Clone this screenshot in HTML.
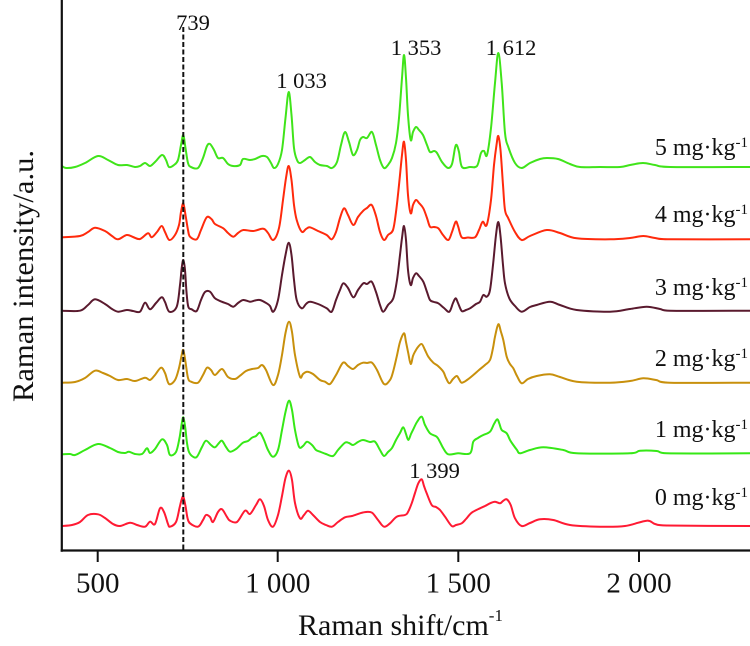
<!DOCTYPE html>
<html>
<head>
<meta charset="utf-8">
<style>
html,body{margin:0;padding:0;background:#fff;}
svg{display:block;}
text{font-family:"Liberation Serif","Times New Roman",serif;fill:#111;}
.s{fill:none;stroke-width:2;stroke-linejoin:round;stroke-linecap:round;}
</style>
</head>
<body>
<svg id="c" width="750" height="646" viewBox="0 0 750 646" xmlns="http://www.w3.org/2000/svg">
<rect x="0" y="0" width="750" height="646" fill="#fff"/>

<!-- spectra -->
<polyline class="s" stroke="#40e41a" points="62,166 66,168 75,167 85,163 98,156 108,160 118,165 127,165 135,167 140,166 145,163 150,166 155,162 162,155 166,160 169,167 174,165 178,160 181,145 183.3,135 185.5,148 188,163 191,167 198,168 203,158 207,146 210,144 214,150 218,158 223,158 228,164 233,166 240,165 243,159 250,160 255,159 262,156 267,157 271,163 274,168 278,164 282,150 285.5,118 288.7,92 291.5,115 294,148 297,160 300,163 305,160 310,157 315,162 320,165 327,166 332,168 337,162 341,145 345,132 349,142 353,155 357,150 360,140 363,137 367,138 372,132 376,145 380,160 384,168 388,165 392,158 396,143 399,118 402,78 404,55 406,78 408,115 410.7,140 413,132 416,127 419,130 423,135 427,145 430,152 434,151 437,153 442,162 448,168 452,164 455,148 456.7,145 459,152 462,167 470,167 477,166 481,153 484,151 487,155 491,128 495,83 498.3,53 501.7,83 505,133 508.3,147 515,163 521.7,168 530,163 540,159 547,158 558,159 570,164 580,167 600,167 620,167 630,165 643,163 655,165 670,167 750,167"/>

<polyline class="s" stroke="#ff2a0c" points="62,237.3 80,236 88,232 95,227.7 105,231 112,236 118,239.3 126.7,235 133,237 140,239 148,233.3 151.7,237.3 157,232 161.7,226 165,232 169.3,240 175,235 179,225 181,212 183.3,203.3 185.5,215 188,230 190,236.7 196.7,239.3 201,230 206.7,217.3 211.7,219.3 215,224 223.3,228.3 228,233 233.3,236.7 238,233 243.3,230 253.3,231 263.3,228.7 268,233 273.3,240 279,228 283,200 286,178 288.7,166 291.5,180 294,205 296.7,220 301.7,231.7 306,229 310,227.3 318,231 326.7,235 331.7,239.3 336,232 340,218 344,208.3 348,215 353.3,225 358,217 363.3,210.7 367,208 371.7,205 376,216 380,232 384,240 388,235 393,230 396,212 399,185 402,155 404,141.7 406,160 408,195 410.7,213.3 413,205 416,200 419,203 423.3,208.3 427,218 430,226.7 434,227 438.3,228.3 443,235 448.3,240 452,232 455.7,221.7 458,226 461.7,237.3 468,237.5 475,237.3 479,230 482.7,221.7 486.7,225 491,200 494,165 496.5,145 498.3,136 500.5,150 503,185 505,210 508.3,218.3 515,232 521.7,240 530,236 546.7,230 560,233 576.7,238.3 610,239.3 630,238 643.3,236 655,238 670,239.3 750,239.3"/>

<polyline class="s" stroke="#5a1a2e" points="62,310.7 80,310.7 88,305 95,299.3 105,304 112,309 118.3,311.7 126.7,310 133,311 140,311.7 145,302.7 150,309.3 156,303 161.7,297.3 165,302 169.3,311.7 176.7,306.7 180,285 181.7,268 183.3,260 185,270 186.5,292 188.3,306.7 191.7,309.3 196.7,311 201,300 205,292 210,291.7 215,298.3 221.7,301.7 228,304 233.3,306.7 238,303 243.3,300 250,301.7 255,300.5 260,300 266.7,303.3 270,306 273.3,311.7 278,300 282,275 285.5,255 288.7,242.7 291.5,255 294,280 296.7,300 301.7,308.3 306,304 310,301.7 318,304 326.7,308.3 331.7,311.7 336,300 340,290 343.3,283.3 348,288 353.3,297.3 358,290 363.3,283.3 367,284 371.7,281.7 376,292 380,305 383.3,311.7 388,305 393.3,298.3 397,280 400,255 402,238 404,226 406,240 408,270 410.7,285 413,278 416,273.3 419,276 423.3,281.7 427,292 430,300 434,302 438.3,303.3 444,308 449.3,311.7 453,303 455.7,298.3 458,303 461.7,311 466,310 470,308.3 476,304 480,301.7 483.3,295 486.7,296.7 490,290 493,265 496,235 498.3,222 500.5,236 503,265 505,283.3 509.3,298.3 515,306 521.7,311.7 530,307 536.7,305 550,301.7 560,305 576.7,310 610,311.7 630,309 646.7,306.7 660,309 670,310.7 750,310.7"/>

<polyline class="s" stroke="#c8900c" points="62,382.7 75,382 85,378 95,370.7 103,373 110,376 118,380 127,379 135,381 145,377.7 150,380 155,375 161,367.7 165,373 169,384 175,380 179,368 181.5,356 183.3,350 185.5,362 188,378 191,381.7 198,382.7 203,375 207,367.7 211,370 215,375 222,369 228,377 235,379 240,375.7 246,371 252,369 258,368 262,365 266,370 273,385 278,375 282,355 285.5,333 289,321.7 292,332 295,355 300,376.7 303,374 307,371.7 313,374 320,380 325,381.7 330,384 336,375 343,362.7 348,366 353,369 358,365 363,362.7 367,363 372,362.7 377,370 384,384 390,380 393,372 396.7,356.7 400,342 404,333.3 406,342 408.3,353.3 410.7,364 413,356 415,351.7 418,347 421.7,344 425,350 428.3,356.7 433.3,362.7 438,366 443.3,371.7 446,378 449.3,383.3 453,379 456.7,376 459,379 461.7,382.7 467,380 473.3,375 479,370 485,365 490,360 493,348 495,336.7 498.3,324.3 501,332 503.3,340 506.7,356.7 510,364 513.3,368.3 517,376 521.7,383.3 528,379 536.7,376 550,374.3 560,377 576.7,381.7 610,382.7 630,381 643.3,378.3 656,380 670,382.7 750,382.7"/>

<polyline class="s" stroke="#36e816" points="62,454.3 70,454 75,455 85,450 98,444 110,448 118,452 125,453 129,451.7 135,454 142,454 147,448.3 150,453 155,449 162,439.3 167,445 170,455 176,452 179.5,438 181.5,425 183.3,417.3 185.3,428 187,443 189,452 193,456.7 197,456.7 202,447 206,440.7 211,445 215,447.3 219,443 222,440.7 226,447 230,451.7 236,449 243,442.7 248,441 252,437.7 256,436 260,432.7 264,440 268,450 273,456.7 278,450 282,430 285.5,412 289,400.7 292,410 295,430 299,446.7 303,446 307,441.7 312,445 316,450 320,451.7 326,454 333,456 338,450 345,442.7 349,443 353,445 358,442 363,440 370,442 375,441.7 380,450 384,456 388,452 392,448 396,440 400,433 403.3,427.3 406,434 408.3,440 411,434 413.3,429.3 417,422 421.7,416.7 425,425 430,433.3 436.7,436.7 440,442 443.3,448.3 448.3,454.3 458,453.3 470,453.3 473.3,441.7 478,438 483.3,435 490,431.7 494,424 497.3,419.3 499.5,424 501.7,430 506.7,433.3 510,440 513.3,445 517,450 520,453.3 530,450 543.3,447.3 563.3,450 576.7,453.3 630,453.3 640,450.7 656.7,451 666.7,453.3 750,453.3"/>

<polyline class="s" stroke="#ff1a33" points="62,526 72,525 80,522 88,515 98,514.3 105,518 113,524 120,526 130,522.7 137,525 145,526.7 150,521.7 155,524 160,508.3 164,512 168,524 170,526.7 176,522 179.5,508 181.5,500 183.3,496.7 185.5,506 187.5,518 190,523.3 198,526.7 203,520 206,515 210,517 213,522 218,512 222,509.3 227,517 230,520.7 237,522 245,510.7 250,514 256,505 260,499.3 264,506 268,520 273,526.7 278,515 282,496 285.5,478 289,470.7 292,480 295,503 300,518.3 304,515 308,510.7 313,515 320,522 326,525 332,526.7 338,522 345,517.3 352,516 360,513.3 366,512 372,512.7 378,520 384,526.7 390,523.3 396.7,516.7 405,515 408,512 411.7,503.3 415,493 418.3,483.3 421.7,479.3 424,486 426.7,493.3 431.7,505 436,507 440,510 445,516.7 451.7,526 456,525 461.7,523.3 466,519 471.7,512.7 480,508.3 485,506 490,503.3 495,501.7 500,503.3 503,501 506.7,499.3 510.7,505 515,518.3 521.7,526 530,523 540,519.3 553.3,520 570,525 600,526.7 625,526 646.7,520.7 655,524 666.7,525.5 750,526"/>

<!-- dashed reference line -->
<line x1="183.3" y1="27" x2="183.3" y2="550" stroke="#111" stroke-width="2" stroke-dasharray="5,2.5"/>

<!-- axes -->
<line x1="61.8" y1="0" x2="61.8" y2="551.7" stroke="#111" stroke-width="2.2"/>
<line x1="60.7" y1="550.5" x2="750" y2="550.5" stroke="#111" stroke-width="2.2"/>
<line x1="97.7" y1="550" x2="97.7" y2="562" stroke="#111" stroke-width="2"/>
<line x1="277.7" y1="550" x2="277.7" y2="562" stroke="#111" stroke-width="2"/>
<line x1="458.3" y1="550" x2="458.3" y2="562" stroke="#111" stroke-width="2"/>
<line x1="639" y1="550" x2="639" y2="562" stroke="#111" stroke-width="2"/>

<!-- tick labels -->
<g font-size="29" text-anchor="middle">
<text x="97.7" y="592.7">500</text>
<text x="277.7" y="592.7">1 000</text>
<text x="458.3" y="592.7">1 500</text>
<text x="639" y="592.7">2 000</text>
</g>

<!-- axis titles -->
<text x="298" y="635" font-size="30">Raman shift/cm<tspan font-size="17" dy="-14">-1</tspan></text>
<text transform="translate(33,402) rotate(-90)" font-size="30" textLength="252" lengthAdjust="spacingAndGlyphs">Raman intensity/a.u.</text>

<!-- peak labels -->
<g font-size="22.5" text-anchor="middle">
<text x="193" y="30">739</text>
<text x="301.5" y="88">1 033</text>
<text x="416" y="55">1 353</text>
<text x="511" y="55">1 612</text>
<text x="434.5" y="478">1 399</text>
</g>

<!-- legend labels -->
<g font-size="24" text-anchor="end">
<text x="748" y="155">5 mg·kg<tspan font-size="15" dy="-8">-1</tspan></text>
<text x="748" y="222">4 mg·kg<tspan font-size="15" dy="-8">-1</tspan></text>
<text x="748" y="295">3 mg·kg<tspan font-size="15" dy="-8">-1</tspan></text>
<text x="748" y="366">2 mg·kg<tspan font-size="15" dy="-8">-1</tspan></text>
<text x="748" y="437">1 mg·kg<tspan font-size="15" dy="-8">-1</tspan></text>
<text x="748" y="505">0 mg·kg<tspan font-size="15" dy="-8">-1</tspan></text>
</g>
</svg>
<script>
(function(){
  var NS="http://www.w3.org/2000/svg";
  var lines=document.querySelectorAll("polyline.s");
  for(var k=0;k<lines.length;k++){
    var pl=lines[k];
    var raw=pl.getAttribute("points").trim().split(/\s+/);
    var p=[];
    for(var i=0;i<raw.length;i++){var a=raw[i].split(",");p.push([+a[0],+a[1]]);}
    var d="M"+p[0][0]+","+p[0][1];
    var t=0.17;
    for(var i=0;i<p.length-1;i++){
      var p0=p[i>0?i-1:0],p1=p[i],p2=p[i+1],p3=p[i+2<p.length?i+2:p.length-1];
      var c1x=p1[0]+(p2[0]-p0[0])*t, c1y=p1[1]+(p2[1]-p0[1])*t;
      var c2x=p2[0]-(p3[0]-p1[0])*t, c2y=p2[1]-(p3[1]-p1[1])*t;
      if(c1x<p1[0])c1x=p1[0]; if(c1x>p2[0])c1x=p2[0];
      if(c2x<p1[0])c2x=p1[0]; if(c2x>p2[0])c2x=p2[0];
      d+=" C"+c1x.toFixed(2)+","+c1y.toFixed(2)+" "+c2x.toFixed(2)+","+c2y.toFixed(2)+" "+p2[0]+","+p2[1];
    }
    var path=document.createElementNS(NS,"path");
    path.setAttribute("d",d);
    path.setAttribute("class","s");
    path.setAttribute("stroke",pl.getAttribute("stroke"));
    pl.parentNode.replaceChild(path,pl);
  }
})();
</script>
</body>
</html>
